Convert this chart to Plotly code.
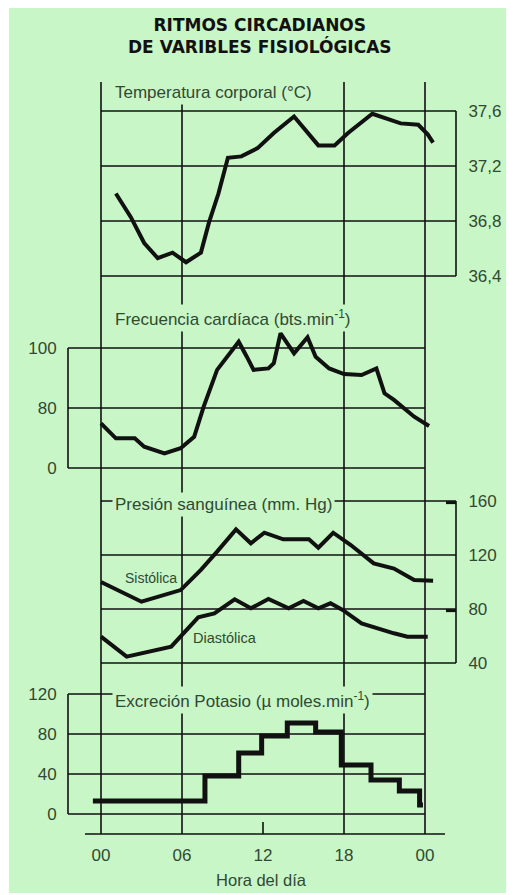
import plotly.graph_objects as go

# ---------------- data ----------------
temp_hours = [1.1, 2.2, 3.2, 4.2, 5.3, 6.3, 7.4, 8.0, 8.7, 9.4, 10.4, 11.6, 12.8, 14.3,
              16.1, 17.3, 18.3, 20.1, 22.2, 23.5, 24.2, 24.6]
temp_values = [37.0, 36.83, 36.64, 36.53, 36.57, 36.5, 36.57, 36.79, 37.0, 37.26, 37.27,
               37.33, 37.44, 37.56, 37.35, 37.35, 37.44, 37.58, 37.51, 37.5, 37.43, 37.37]

hr_hours = [0, 1.1, 2.5, 3.2, 4.7, 5.9, 6.9, 7.6, 8.6, 9.5, 10.2, 10.8, 11.3, 12.4, 12.8,
            13.3, 14.3, 15.3, 15.9, 16.9, 18.0, 19.3, 20.4, 21.0, 21.7, 23.2, 24.3]
hr_values = [74.9, 69.9, 69.9, 67.1, 64.9, 66.6, 70.4, 80.4, 92.7, 97.7, 102.1, 97.1, 92.7,
             93.2, 94.9, 104.9, 98.2, 103.6, 97.1, 93.2, 91.3, 91.0, 93.2, 84.9, 82.7, 77.1, 74.0]

sys_hours = [0, 3.0, 5.9, 7.4, 8.6, 10.0, 11.1, 12.1, 13.5, 15.4, 16.1, 17.2, 18.5, 20.2,
             21.7, 23.2, 24.6]
sys_values = [100, 85.4, 94, 109, 122.5, 139, 128.7, 136.5, 131.6, 131.6, 125.4, 136.5,
              127.4, 113.8, 110, 101.5, 101]

dia_hours = [0, 1.9, 5.2, 6.1, 7.2, 8.4, 9.9, 11.1, 12.4, 13.9, 15.0, 16.1, 17.0, 17.9,
             19.3, 21.7, 22.7, 24.2]
dia_values = [59.5, 44.7, 52.1, 62, 73.8, 76.8, 87.2, 80.5, 87.4, 80.5, 85.9, 80.5, 84.2,
              79.3, 69.4, 62, 59.5, 59.5]

k_edges = [-0.6, 7.7, 10.2, 11.9, 13.8, 15.9, 17.8, 20.0, 22.1, 23.6, 23.85]
k_values = [13, 38, 61, 78, 91, 82, 49, 34, 23, 9]

temp_ticks = [36.4, 36.8, 37.2, 37.6]
temp_labels = ["36,4", "36,8", "37,2", "37,6"]
hr_ticks = [60, 80, 100]
hr_labels = ["0", "80", "100"]
bp_ticks = [40, 80, 120, 160]
bp_labels = ["40", "80", "120", "160"]
k_ticks = [0, 40, 80, 120]
k_labels = ["0", "40", "80", "120"]
hour_ticks = [0, 6, 12, 18, 24]
hour_labels = ["00", "06", "12", "18", "00"]
grid_hours = [0, 6, 18, 24]

# ---------------- geometry / style ----------------
PAGE_W, PAGE_H = 514, 895
OFF = 8                      # page margin around the plot div
W, H = PAGE_W - OFF, PAGE_H - OFF
BG = "#c9f6c6"
INK = "#111111"
TXT = "#2f4a33"
FONT = "Liberation Sans"
X0_PX, PX_PER_H = 101, 13.5  # page pixel of hour 0, pixels per hour


def hx(px):
    return (px - X0_PX) / PX_PER_H


def fx(px):
    return (px - OFF) / W


def fy(py):
    return 1 - (py - OFF) / H


def yrange(v_top, py_top, v_bot, py_bot):
    per_px = (v_top - v_bot) / (py_bot - py_top)
    return [v_bot - (PAGE_H - py_bot) * per_px, v_top + (py_top - OFF) * per_px]


fig = go.Figure()
line_w = 4
fig.add_trace(go.Scatter(x=temp_hours, y=temp_values, yaxis="y", mode="lines",
                         line=dict(color=INK, width=line_w), hoverinfo="skip"))
fig.add_trace(go.Scatter(x=hr_hours, y=hr_values, yaxis="y2", mode="lines",
                         line=dict(color=INK, width=line_w), hoverinfo="skip"))
fig.add_trace(go.Scatter(x=sys_hours, y=sys_values, yaxis="y3", mode="lines",
                         line=dict(color=INK, width=line_w), hoverinfo="skip"))
fig.add_trace(go.Scatter(x=dia_hours, y=dia_values, yaxis="y3", mode="lines",
                         line=dict(color=INK, width=line_w), hoverinfo="skip"))
fig.add_trace(go.Scatter(x=k_edges, y=k_values + [k_values[-1]], yaxis="y4", mode="lines",
                         line=dict(color=INK, width=5, shape="hv"), hoverinfo="skip"))

shapes = []
# green sheet
shapes.append(dict(type="rect", xref="paper", yref="paper", x0=fx(9), x1=1.01,
                   y0=fy(893), y1=1.01, fillcolor=BG, line=dict(width=0), layer="below"))
GL = dict(color=INK, width=1.6)


def hline(yref, v, px0, px1):
    shapes.append(dict(type="line", xref="x", yref=yref, x0=hx(px0), x1=hx(px1),
                       y0=v, y1=v, line=GL, layer="below"))


def vline_px(yref, px, v0, v1, line=GL):
    shapes.append(dict(type="line", xref="x", yref=yref, x0=hx(px), x1=hx(px),
                       y0=v0, y1=v1, line=line, layer="below"))


# global vertical hour lines
for h in grid_hours:
    shapes.append(dict(type="line", xref="x", yref="paper", x0=h, x1=h,
                       y0=fy(834), y1=fy(82), line=GL, layer="below"))
# temperature box
for v in temp_ticks:
    hline("y", v, X0_PX, 456)
vline_px("y", 456, temp_ticks[0], temp_ticks[-1])
# heart box
for v in hr_ticks:
    hline("y2", v, 68, 425)
vline_px("y2", 68, hr_ticks[0], hr_ticks[-1])
# blood pressure box
for v in bp_ticks:
    hline("y3", v, X0_PX, 456)
vline_px("y3", 456, bp_ticks[0], bp_ticks[-1])
for v in (160, 80):
    shapes.append(dict(type="line", xref="x", yref="y3", x0=hx(446), x1=hx(456),
                       y0=v - 1.2, y1=v - 1.2, line=dict(color=INK, width=3), layer="below"))
# potassium box
for v in k_ticks:
    hline("y4", v, 68, 425)
vline_px("y4", 68, k_ticks[0], k_ticks[-1])
# bottom time axis
shapes.append(dict(type="line", xref="x", yref="paper", x0=hx(85), x1=hx(445),
                   y0=fy(834), y1=fy(834), line=GL))
shapes.append(dict(type="line", xref="x", yref="paper", x0=12, x1=12,
                   y0=fy(834), y1=fy(822), line=GL))

TS = 17
tickfont = dict(family=FONT, size=TS, color=TXT)
common_y = dict(domain=[0, 1], anchor="free", showgrid=False, zeroline=False,
                showline=False, ticks="outside", ticklen=5, tickcolor="rgba(0,0,0,0)",
                tickfont=tickfont, fixedrange=True)

annotations = [
    dict(text="<b>RITMOS CIRCADIANOS<br>DE VARIBLES FISIOLÓGICAS</b>", x=fx(260), y=fy(36),
         xref="paper", yref="paper", xanchor="center", yanchor="middle", showarrow=False,
         font=dict(family="DejaVu Sans", size=17, color=INK)),
]
for text, py in [("Temperatura corporal (°C)", 93),
                 ("Frecuencia cardíaca (bts.min<sup>-1</sup>)", 318),
                 ("Presión sanguínea (mm. Hg)", 504),
                 ("Excreción Potasio (µ moles.min<sup>-1</sup>)", 700)]:
    annotations.append(dict(text=text, x=fx(112), y=fy(py), xref="paper", yref="paper",
                            xanchor="left", yanchor="middle", showarrow=False,
                            bgcolor=BG, borderpad=2,
                            font=dict(family=FONT, size=17, color=TXT)))
annotations.append(dict(text="Sistólica", x=fx(151), y=fy(578), xref="paper", yref="paper",
                        xanchor="center", yanchor="middle", showarrow=False,
                        font=dict(family=FONT, size=14, color=TXT)))
annotations.append(dict(text="Diastólica", x=fx(225), y=fy(638), xref="paper", yref="paper",
                        xanchor="center", yanchor="middle", showarrow=False,
                        font=dict(family=FONT, size=14.5, color=TXT)))

fig.update_layout(
    width=W, height=H, autosize=False,
    margin=dict(l=0, r=0, t=0, b=0, pad=0),
    paper_bgcolor="white", plot_bgcolor="rgba(0,0,0,0)",
    showlegend=False,
    xaxis=dict(domain=[0, 1], range=[hx(OFF), hx(PAGE_W)], anchor="free", position=fy(834),
               showgrid=False, zeroline=False, showline=False,
               tickvals=hour_ticks, ticktext=hour_labels, ticks="outside", ticklen=6,
               tickcolor="rgba(0,0,0,0)", tickfont=tickfont, fixedrange=True,
               title=dict(text="Hora del día", standoff=10,
                          font=dict(family=FONT, size=16.5, color=TXT))),
    yaxis=dict(range=yrange(37.6, 111, 36.4, 276), position=fx(459), side="right",
               tickvals=temp_ticks, ticktext=temp_labels, **common_y),
    yaxis2=dict(range=yrange(100, 348, 60, 468), position=fx(65), side="left",
                overlaying="y", tickvals=hr_ticks, ticktext=hr_labels, **common_y),
    yaxis3=dict(range=yrange(160, 501, 40, 663), position=fx(459), side="right",
                overlaying="y", tickvals=bp_ticks, ticktext=bp_labels, **common_y),
    yaxis4=dict(range=yrange(120, 694, 0, 814), position=fx(65), side="left",
                overlaying="y", tickvals=k_ticks, ticktext=k_labels, **common_y),
    shapes=shapes,
    annotations=annotations,
)

fig.write_html("out.html", config={"displayModeBar": False})
